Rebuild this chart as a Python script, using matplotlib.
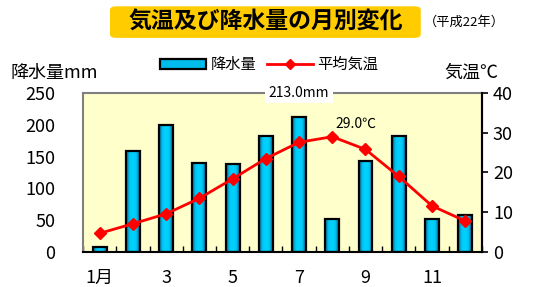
import matplotlib
matplotlib.use("Agg")
import matplotlib.pyplot as plt
from matplotlib.patches import FancyBboxPatch
from matplotlib.colors import LinearSegmentedColormap
import numpy as np

plt.rcParams['font.family'] = ['Noto Sans CJK JP', 'DejaVu Sans']

months = np.arange(1, 13)
month_labels = ["1月", "", "3", "", "5", "", "7", "", "9", "", "11", ""]
rain = [8, 159, 200, 140, 138, 183, 213, 52, 143, 183, 52, 58]
temp = [4.7, 7.1, 9.6, 13.5, 18.4, 23.5, 27.6, 29.0, 25.8, 19.0, 11.6, 7.8]

bar_w = 0.42
cmap = LinearSegmentedColormap.from_list("bar", ['#0A5C8C', '#00C8F4', '#00D2FF', '#00C8F4', '#0A5C8C'])
grad = np.linspace(0, 1, 64).reshape(1, -1)

fig = plt.figure(figsize=(5.5, 2.87), dpi=100)
ax = fig.add_axes([0.151, 0.122, 0.725, 0.554])
ax.set_facecolor('#FFFFCC')

# gradient fill of the bars, then black outline on top
for m, r in zip(months, rain):
    ax.imshow(grad, extent=[m - bar_w / 2, m + bar_w / 2, 0, r], aspect='auto',
              cmap=cmap, zorder=2, interpolation='bicubic')
bars = ax.bar(months, rain, width=bar_w, facecolor='none', edgecolor='black',
              linewidth=1.6, zorder=2.5)
ax.set_xlim(0.5, 12.5)
ax.set_ylim(0, 250)
ax.set_yticks([0, 50, 100, 150, 200, 250])
ax.set_xticks(months)
ax.set_xticklabels(month_labels)
ax.set_xticks(np.arange(0.5, 13, 1), minor=True)
ax.tick_params(axis='x', which='major', length=0, pad=12, labelsize=13)
ax.tick_params(axis='x', which='minor', length=4, direction='in', width=1)
ax.tick_params(axis='y', length=0, labelsize=13, pad=20)
for s in ['top', 'left']:
    ax.spines[s].set_color('#808080')
    ax.spines[s].set_linewidth(1.5)
ax.spines['bottom'].set_linewidth(1.5)
ax.spines['right'].set_linewidth(1.5)

ax2 = ax.twinx()
line, = ax2.plot(months, temp, color='#FF0000', linewidth=2, marker='D', markersize=6,
                 zorder=3)
ax2.set_ylim(0, 40)
ax2.set_yticks([0, 10, 20, 30, 40])
ax2.tick_params(axis='y', length=4, width=1.2, direction='out', labelsize=13, pad=4)
ax2.spines['right'].set_linewidth(1.5)
ax2.spines['top'].set_visible(False)
ax2.spines['left'].set_visible(False)
ax2.spines['bottom'].set_visible(False)

ax.text(7, 250, "213.0mm", ha='center', va='center', fontsize=10,
        bbox=dict(facecolor='white', edgecolor='none', pad=2.5), zorder=5, clip_on=False)
ax2.text(8.7, 32.3, "29.0℃", ha='center', va='center', fontsize=10)

# title box
box = FancyBboxPatch((0.2, 0.868), 0.565, 0.11, boxstyle="round,pad=0,rounding_size=0.012",
                     transform=fig.transFigure, facecolor='#FFCC00', edgecolor='none')
fig.patches.append(box)
fig.text(0.4825, 0.922, "気温及び降水量の月別変化", ha='center', va='center',
         fontsize=16.5, fontweight='bold')
fig.text(0.845, 0.922, "（平成22年）", ha='center', va='center', fontsize=9.5)

fig.text(0.02, 0.745, "降水量mm", ha='left', va='center', fontsize=13)
fig.text(0.808, 0.745, "気温℃", ha='left', va='center', fontsize=13)

bar_handle = plt.Rectangle((0, 0), 1, 1, facecolor='#00BDEB', edgecolor='black', linewidth=1.6)
fig.legend([bar_handle, line], ['降水量', '平均気温'], loc='center', bbox_to_anchor=(0.49, 0.775),
           ncol=2, frameon=False, fontsize=11, handlelength=3.0, handleheight=0.6,
           columnspacing=0.7, handletextpad=0.3, markerscale=0.8)

fig.savefig("out.png", dpi=100)
